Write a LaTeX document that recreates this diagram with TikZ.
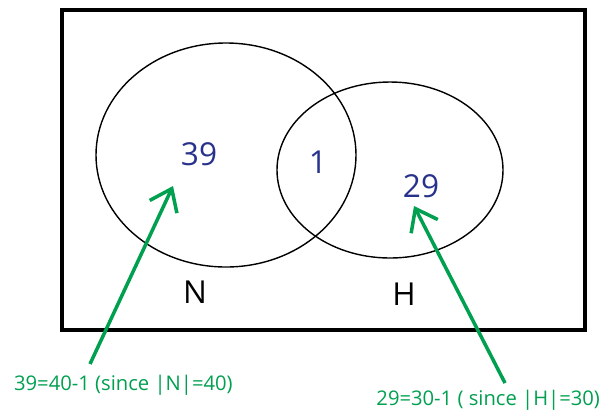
\documentclass[tikz,border=0pt]{standalone}
\usepackage{fontspec}
\setmainfont{Open Sans}
\usetikzlibrary{arrows.meta}
\definecolor{numblue}{RGB}{40,50,140}
\definecolor{notegreen}{RGB}{0,160,80}
\begin{document}
\begin{tikzpicture}[x=0.02cm, y=-0.02cm, every node/.style={align=center}]
\tikzset{
  setline/.style={draw, line width=0.8pt},
  count/.style={text=numblue, font=\fontsize{18}{20}\selectfont},
  setname/.style={font=\fontsize{18}{20}\selectfont},
  note/.style={text=notegreen, font=\fontsize{11.5}{14}\selectfont, inner sep=1pt},
  pointer/.style={draw=notegreen, line width=2pt, -{Straight Barb[length=4mm, width=6mm, line width=2pt]}}
}
\useasboundingbox (0,0) rectangle (605,414);
\draw[line width=2.2pt] (62,10) rectangle (585,330);
\draw[setline] (226,155) ellipse [x radius=130, y radius=112];
\draw[setline] (390,170) ellipse [x radius=113, y radius=88];

\node[count] (onlyn) at (199,154) {39};
\node[count] (both) at (318,162) {1};
\node[count] (onlyh) at (421,186) {29};
\node[setname] (nlab) at (195,292) {N};
\node[setname] (hlab) at (404,294) {H};

\node[note, anchor=west] (nnote) at (12,385) {39=40-1 (since |N|=40)};
\node[note, anchor=east] (hnote) at (602,400) {29=30-1 ( since |H|=30)};
\coordinate (ntail) at (90,364);
\coordinate (nhead) at (173,186);
\coordinate (htail) at (505,383);
\coordinate (hhead) at (414,206);
\draw[pointer] (ntail) -- (nhead);
\draw[pointer] (htail) -- (hhead);
\end{tikzpicture}
\end{document}
